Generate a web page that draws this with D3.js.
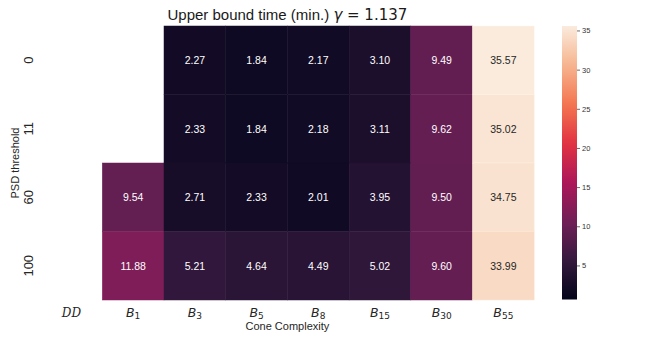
<!DOCTYPE html>
<html><head><meta charset="utf-8">
<script src="https://cdn.jsdelivr.net/npm/d3@7"></script>
<style>body{margin:0;background:#fff}svg{display:block}</style>
</head><body><svg id="c" width="664" height="343"></svg>
<script>
const rows = ["0", "11", "60", "100"];
const cols = ["DD", "B1", "B3", "B5", "B8", "B15", "B30", "B55"];
const colSubs = [null, "1", "3", "5", "8", "15", "30", "55"];
const row0 = [null, null, 2.27, 1.84, 2.17, 3.10, 9.49, 35.57];
const row11 = [null, null, 2.33, 1.84, 2.18, 3.11, 9.62, 35.02];
const row60 = [null, 9.54, 2.71, 2.33, 2.01, 3.95, 9.50, 34.75];
const row100 = [null, 11.88, 5.21, 4.64, 4.49, 5.02, 9.60, 33.99];
const values = [row0, row11, row60, row100];
const cbTicks = [5, 10, 15, 20, 25, 30, 35];
const vmin = 0.65, vmax = 35.57;
const rocketStops = ["#03051a", "#35193e", "#701f57", "#ad1759", "#e13342", "#f37651", "#f6b48f", "#faebdd"];

const rocket = d3.scaleLinear().domain(d3.range(rocketStops.length).map(i => i / (rocketStops.length - 1)))
  .range(rocketStops).interpolate(d3.interpolateRgb);
const color = v => rocket((v - vmin) / (vmax - vmin));

const svg = d3.select("#c");
const L = 40.6, R = 534.2, T = 26, B = 300;
const x = d3.scaleBand().domain(cols).range([L, R]);
const y = d3.scaleBand().domain(rows).range([T, B]);

const cells = [];
rows.forEach((r, i) => cols.forEach((c, j) => { if (values[i][j] != null) cells.push({r, c, v: values[i][j]}); }));

function lum(hex) {
  const c = d3.rgb(hex);
  const f = u => { u /= 255; return u <= 0.03928 ? u / 12.92 : Math.pow((u + 0.055) / 1.055, 2.4); };
  return 0.2126 * f(c.r) + 0.7152 * f(c.g) + 0.0722 * f(c.b);
}

svg.append("g").selectAll("rect").data(cells).join("rect")
  .attr("x", d => x(d.c)).attr("y", d => y(d.r))
  .attr("width", x.bandwidth()).attr("height", y.bandwidth())
  .attr("fill", d => color(d.v))
  .attr("stroke", d => d3.rgb(color(d.v)).brighter(0.15)).attr("stroke-width", 0.5);

svg.append("g").selectAll("text").data(cells).join("text")
  .attr("x", d => x(d.c) + x.bandwidth() / 2).attr("y", d => y(d.r) + y.bandwidth() / 2)
  .attr("dy", "0.36em").attr("text-anchor", "middle")
  .attr("font-family", "Liberation Sans, Arial, sans-serif").attr("font-size", 10.5)
  .attr("fill", d => lum(color(d.v)) > 0.408 ? "#262626" : "#ffffff")
  .text(d => d.v.toFixed(2));

// title
const title = svg.append("text").attr("x", (L + R) / 2).attr("y", 20).attr("text-anchor", "middle")
  .attr("font-family", "Liberation Sans, Arial, sans-serif").attr("font-size", 15).attr("fill", "#1a1a1a");
title.append("tspan").text("Upper bound time (min.) ");
title.append("tspan").attr("font-family", "DejaVu Sans").attr("font-style", "italic").text("γ");
title.append("tspan").attr("font-family", "DejaVu Sans").text(" = 1.137");

// y tick labels
svg.append("g").selectAll("text").data(rows).join("text")
  .attr("transform", d => `translate(33,${y(d) + y.bandwidth() / 2}) rotate(-90)`)
  .attr("text-anchor", "middle")
  .attr("font-family", "Liberation Sans, Arial, sans-serif").attr("font-size", 13).attr("fill", "#262626")
  .text(d => d);
svg.append("text").attr("transform", `translate(19,${(T + B) / 2}) rotate(-90)`)
  .attr("text-anchor", "middle")
  .attr("font-family", "Liberation Sans, Arial, sans-serif").attr("font-size", 11).attr("fill", "#262626")
  .text("PSD threshold");

// x tick labels
const xt = svg.append("g").selectAll("text").data(cols).join("text")
  .attr("x", d => x(d) + x.bandwidth() / 2).attr("y", 317).attr("text-anchor", "middle")
  .attr("fill", "#262626");
xt.each(function (d, i) {
  const t = d3.select(this);
  if (colSubs[i] == null) {
    t.attr("font-family", "DejaVu Serif").attr("font-style", "italic").attr("font-size", 12).text("DD");
  } else {
    t.append("tspan").attr("font-family", "DejaVu Sans").attr("font-style", "italic").attr("font-size", 12.5).text("B");
    t.append("tspan").attr("font-family", "DejaVu Sans").attr("font-size", 9).attr("dy", 2).text(colSubs[i]);
  }
});
svg.append("text").attr("x", (L + R) / 2).attr("y", 330).attr("text-anchor", "middle")
  .attr("font-family", "Liberation Sans, Arial, sans-serif").attr("font-size", 11).attr("fill", "#262626")
  .text("Cone Complexity");

// colorbar
const cbX = 562, cbW = 15, cbT = 26, cbB = 299.5;
const defs = svg.append("defs");
const grad = defs.append("linearGradient").attr("id", "g").attr("x1", 0).attr("y1", 1).attr("x2", 0).attr("y2", 0);
d3.range(0, 1.0001, 0.02).forEach(t => grad.append("stop").attr("offset", t).attr("stop-color", rocket(t)));
svg.append("rect").attr("x", cbX).attr("y", cbT).attr("width", cbW).attr("height", cbB - cbT).attr("fill", "url(#g)");
const cy = d3.scaleLinear().domain([vmin, vmax]).range([cbB, cbT]);
const ax = svg.append("g").attr("transform", `translate(${cbX + cbW},0)`)
  .call(d3.axisRight(cy).tickValues(cbTicks).tickSize(3).tickPadding(2));
ax.select(".domain").remove();
ax.selectAll("line").attr("stroke", "#444").attr("stroke-width", 0.8);
ax.selectAll("text").attr("font-family", "Liberation Sans, Arial, sans-serif").attr("font-size", 7.5).attr("fill", "#333");
</script></body></html>
